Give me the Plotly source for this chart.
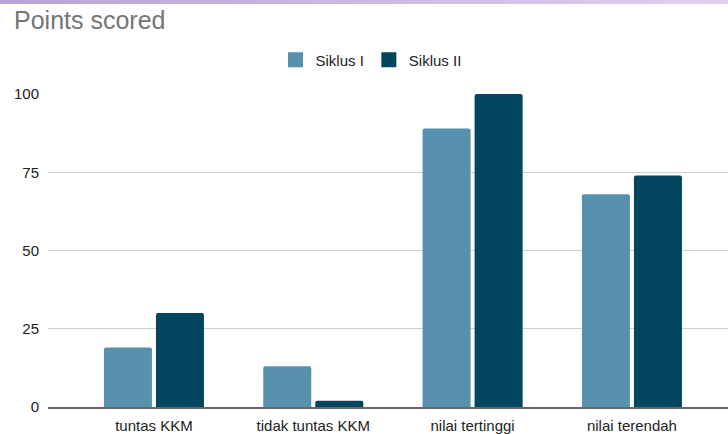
import plotly.graph_objects as go

categories = ["tuntas KKM", "tidak tuntas KKM", "nilai tertinggi", "nilai terendah"]
siklus_1 = [19, 13, 89, 68]
siklus_2 = [30, 2, 100, 74]
series_names = ["Siklus I", "Siklus II"]
series_colors = ["#5891ae", "#02455f"]
y_ticks = [0, 25, 50, 75, 100]

W, H = 728, 434
fig = go.Figure()
for name, vals, col in zip(series_names, [siklus_1, siklus_2], series_colors):
    fig.add_bar(x=categories, y=vals, name=name, showlegend=False,
                marker=dict(color=col, cornerradius=2, line=dict(width=0)))
# legend entries with square swatches
for name, col in zip(series_names, series_colors):
    fig.add_scatter(x=[None], y=[None], mode="markers", name=name,
                    marker=dict(symbol="square", size=15, color=col))

# purple gradient strip at top
shapes = []
n = 40
c0 = (185, 163, 214)
c1 = (222, 212, 238)
for i in range(n):
    t = i / (n - 1)
    col = tuple(int(round(c0[k] + (c1[k] - c0[k]) * t)) for k in range(3))
    shapes.append(dict(type="rect", xref="paper", yref="paper",
                       x0=(i / n) * (W + 52) / 680 - 48 / 680,
                       x1=((i + 1) / n) * (W + 52) / 680 - 48 / 680 + 0.002,
                       y0=1 + (94 - 4) / 313, y1=1 + 94 / 313,
                       fillcolor="rgb(%d,%d,%d)" % col, line=dict(width=0), layer="above"))

fig.update_layout(
    width=W, height=H,
    margin=dict(l=48, r=0, t=94, b=27),
    paper_bgcolor="white", plot_bgcolor="white",
    font=dict(family="Liberation Sans, Arial, sans-serif", color="#222222", size=15),
    title=dict(text="Points scored", x=14 / W, xanchor="left", y=1 - 20 / H, yanchor="middle",
               font=dict(size=25, color="#757575")),
    barmode="group", bargap=0.347, bargroupgap=0.077,
    showlegend=True,
    legend=dict(orientation="h", x=(275.5 - 48) / 680, xanchor="left", y=1 + (94 - 60) / 313, yanchor="middle",
                font=dict(size=15, color="#222222"), traceorder="normal", itemsizing="trace"),
    xaxis=dict(range=[-0.665, 3.603], showgrid=False, showline=True, linecolor="#666666", linewidth=2,
               ticks="", ticklabelstandoff=4, tickfont=dict(size=15, color="#222222")),
    yaxis=dict(range=[0, 100], tickvals=y_ticks, showgrid=True, gridcolor="#d0d0d0", gridwidth=1,
               zeroline=False, ticks="", ticklabelstandoff=8, tickfont=dict(size=15, color="#222222")),
    shapes=shapes,
)
fig.write_html("out.html")
